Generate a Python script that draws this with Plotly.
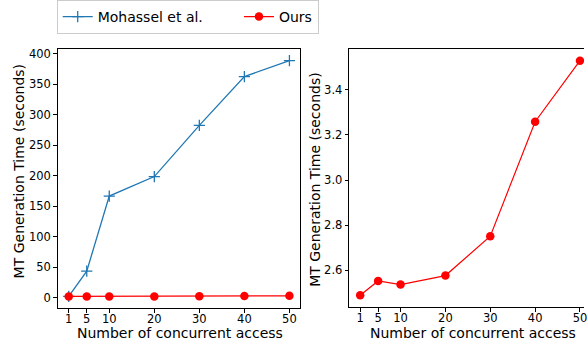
import plotly.graph_objects as go
from plotly.subplots import make_subplots

access = [1, 5, 10, 20, 30, 40, 50]
mohassel = [2.5, 44, 167, 199, 283, 363, 389]
ours = [2.49, 2.553, 2.537, 2.577, 2.751, 3.258, 3.528]
x_ticks = [1, 5, 10, 20, 30, 40, 50]
left_yticks = [0, 50, 100, 150, 200, 250, 300, 350, 400]
right_yticks = [2.6, 2.8, 3.0, 3.2, 3.4]
x_title = "Number of concurrent access"
y_title = "MT Generation Time (seconds)"

W, H = 587, 343
BLUE = "#1f77b4"
RED = "#ff0000"
FONT = "DejaVu Sans"

fig = make_subplots(rows=1, cols=2)

fig.add_trace(go.Scatter(x=access, y=mohassel, mode="lines+markers",
                         name="Mohassel et al." + "\u00a0" * 7,
                         line=dict(color=BLUE, width=1.3),
                         marker=dict(symbol="cross-thin-open", size=8, line=dict(color=BLUE, width=1.3))),
              row=1, col=1)
fig.add_trace(go.Scatter(x=access, y=ours, mode="lines+markers", name="Ours",
                         line=dict(color=RED, width=1.2),
                         marker=dict(symbol="circle", size=8.5, color=RED)),
              row=1, col=1)
fig.add_trace(go.Scatter(x=access, y=ours, mode="lines+markers", name="Ours", showlegend=False,
                         line=dict(color=RED, width=1.2),
                         marker=dict(symbol="circle", size=8.5, color=RED)),
              row=1, col=2)

def px_x(p):
    return p / W

def px_y(p):
    return (H - p) / H

ax_common = dict(showline=True, linecolor="black", linewidth=1,
                 ticks="outside", ticklen=3.5, tickcolor="black", tickwidth=1,
                 showgrid=False, zeroline=False, ticklabeloverflow="allow",
                 tickfont=dict(family=FONT, size=11.5, color="black"))

fig.update_xaxes(domain=[px_x(58), px_x(302)], range=[-1.45, 52.45],
                 tickvals=x_ticks, ticktext=[str(v) for v in x_ticks],
                 mirror=True, ticklabelstandoff=-4, **ax_common, row=1, col=1)
fig.update_yaxes(domain=[px_y(308), px_y(47)], range=[-16.8, 408.6],
                 tickvals=left_yticks, mirror=True, **ax_common, row=1, col=1)

x2_right = -1.45 + (587 - 351) / ((594 - 351) / 53.9)
fig.update_xaxes(domain=[px_x(351), 1.0], range=[-1.45, x2_right],
                 tickvals=x_ticks, ticktext=[str(v) for v in x_ticks],
                 mirror=True, ticklabelstandoff=-4, **ax_common, row=1, col=2)
fig.update_yaxes(domain=[px_y(307), px_y(47)], range=[2.437, 3.581],
                 tickvals=right_yticks, tickformat=".1f", mirror=False,
                 **ax_common, row=1, col=2)

tfont = dict(family=FONT, size=14, color="black")
annos = [
    dict(text=x_title, x=px_x(181), y=px_y(332.5), xanchor="center", yanchor="middle"),
    dict(text=x_title, x=px_x(475), y=px_y(332.5), xanchor="center", yanchor="middle"),
    dict(text=y_title, x=px_x(19.5), y=px_y(170), xanchor="center", yanchor="middle", textangle=-90),
    dict(text=y_title, x=px_x(316.5), y=px_y(178), xanchor="center", yanchor="middle", textangle=-90),
]
for a in annos:
    fig.add_annotation(xref="paper", yref="paper", showarrow=False, font=tfont, **a)

fig.update_layout(
    width=W, height=H,
    margin=dict(l=0, r=0, t=0, b=0),
    paper_bgcolor="white", plot_bgcolor="white",
    font=dict(family=FONT, size=12, color="black"),
    showlegend=True,
    legend=dict(orientation="h", x=px_x(57), y=px_y(15), xanchor="left", yanchor="middle",
                bgcolor="white", bordercolor="#cccccc", borderwidth=1,
                font=dict(family=FONT, size=14, color="black"),
                itemwidth=30, tracegroupgap=0),
)

fig.write_html("out.html", config={"displayModeBar": False},
               post_script="document.body.style.margin='0';document.body.style.overflow='hidden';")
